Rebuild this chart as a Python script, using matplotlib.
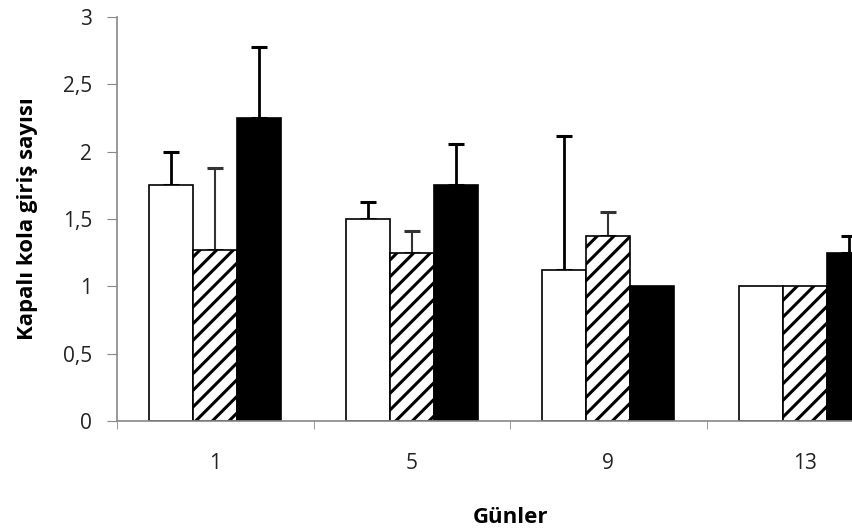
import numpy as np
import matplotlib
matplotlib.use('Agg')
import matplotlib.pyplot as plt

# Data
days = ['1', '5', '9', '13']
white_vals = [1.75, 1.50, 1.12, 1.00]
white_err = [0.25, 0.125, 1.00, 0.0]
hatch_vals = [1.27, 1.25, 1.375, 1.00]
hatch_err = [0.61, 0.16, 0.175, 0.0]
black_vals = [2.25, 1.75, 1.00, 1.25]
black_err = [0.53, 0.31, 0.0, 0.125]

plt.rcParams['font.family'] = ['Open Sans', 'DejaVu Sans']
plt.rcParams['hatch.linewidth'] = 2.2
plt.rcParams['hatch.color'] = 'black'

fig = plt.figure(figsize=(8.53, 5.29), dpi=100)
ax = fig.add_axes([0.1372, 0.204, 0.9215, 0.7637])

x = np.arange(len(days))
w = 0.224

def draw(offset, vals, errs, face, hatch=None, ecol='black', elw=2):
    ax.bar(x + offset, vals, w, color=face, edgecolor='black', linewidth=1.2,
           hatch=hatch, zorder=2)
    err = np.array(errs)
    mask = err > 0
    ax.errorbar((x + offset)[mask], np.array(vals)[mask],
                yerr=[np.zeros(mask.sum()), err[mask]],
                fmt='none', ecolor=ecol, elinewidth=elw, capsize=6,
                capthick=2.2, zorder=1)

draw(-w, white_vals, white_err, 'white')
draw(0, hatch_vals, hatch_err, 'white', '//', ecol='#333333', elw=1.5)
draw(w, black_vals, black_err, 'black')

ax.set_xlim(-0.5, 3.5)
ax.set_ylim(0, 3)
ax.set_yticks(np.arange(0, 3.01, 0.5))
ax.set_yticklabels(['0', '0,5', '1', '1,5', '2', '2,5', '3'])
ax.set_xticks(x)
ax.set_xticklabels(days)
ax.set_xticks(np.arange(-0.5, 3.6, 1), minor=True)
ax.tick_params(axis='x', which='major', length=0, pad=23, labelsize=15, labelcolor='#222222')
ax.tick_params(axis='x', which='minor', length=6, color='#888888', direction='out')
ax.tick_params(axis='y', length=7, color='#888888', labelsize=15, labelcolor='#222222', pad=11)

for s in ['top', 'right']:
    ax.spines[s].set_visible(False)
for s in ['left', 'bottom']:
    ax.spines[s].set_color('#888888')
    ax.spines[s].set_linewidth(1.2)

ax.set_ylabel('Kapalı kola giriş sayısı', fontsize=16, fontweight='bold', labelpad=18)
ax.set_xlabel('Günler', fontsize=16, fontweight='bold', labelpad=24)

fig.savefig('out.png', dpi=100)
